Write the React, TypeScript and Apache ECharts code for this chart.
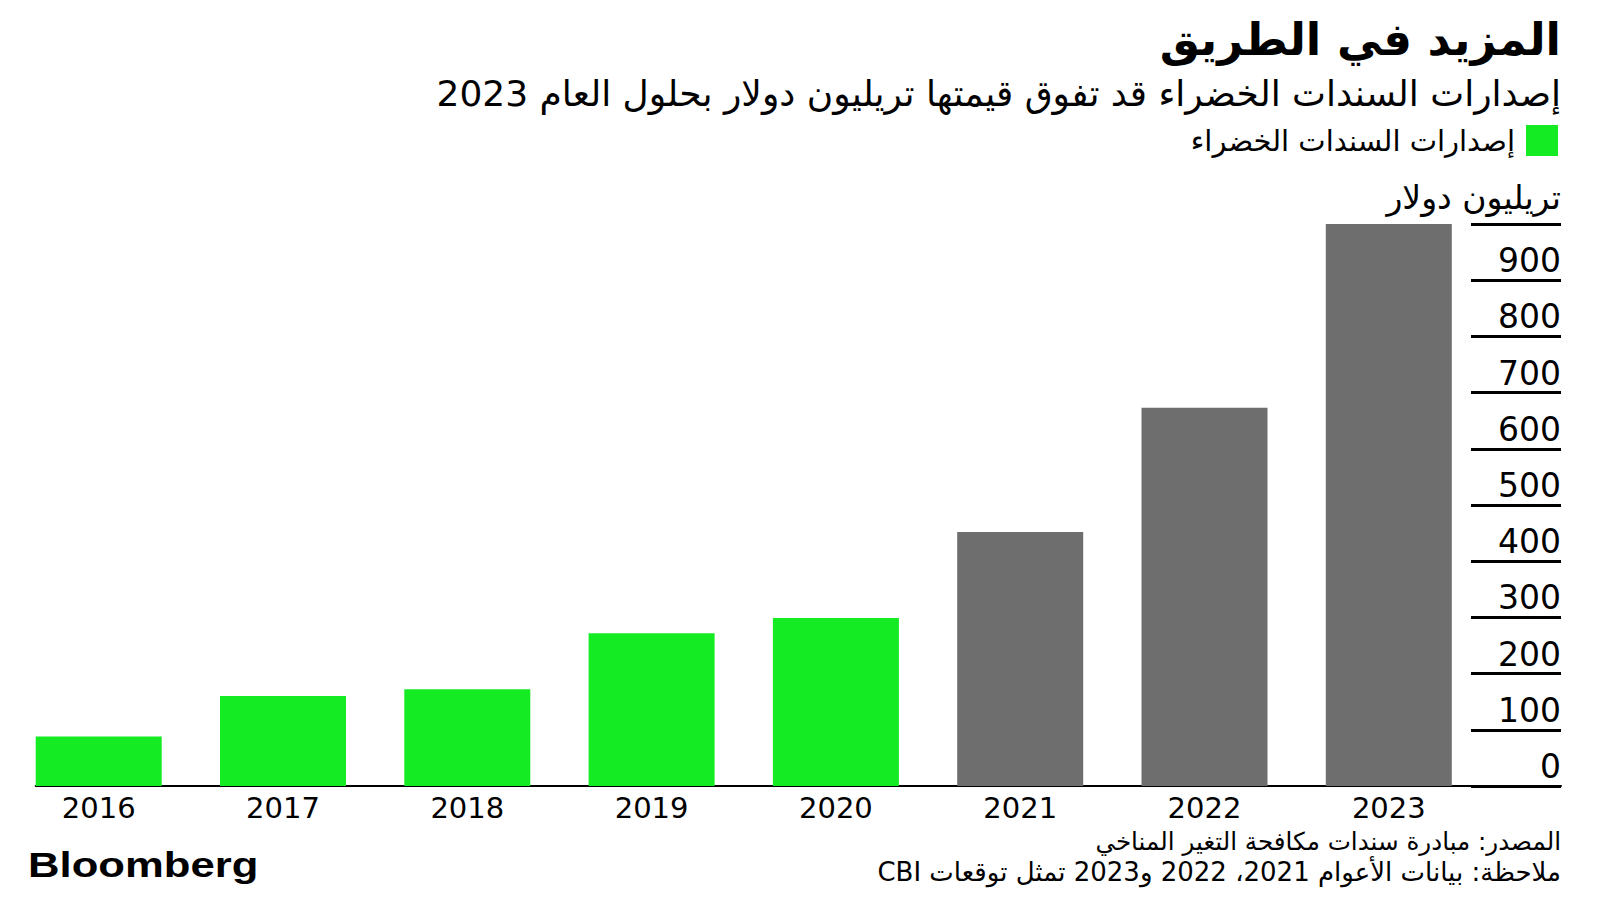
import React, { useEffect, useRef } from "react";
import * as echarts from "echarts";

const years = ["2016", "2017", "2018", "2019", "2020", "2021", "2022", "2023"];
const issuance = [88, 160, 172, 272, 299, 452, 673, 1000];
const forecastYears = ["2021", "2022", "2023"];
const yTicks = { min: 0, max: 1000, interval: 100 };

const titleText = "المزيد في الطريق";
const subtitleText = "إصدارات السندات الخضراء قد تفوق قيمتها تريليون دولار بحلول العام 2023";
const seriesName = "إصدارات السندات الخضراء";
const unitLabel = "تريليون دولار";
const sourceText = "المصدر: مبادرة سندات مكافحة التغير المناخي";
const noteText = "ملاحظة: بيانات الأعوام 2021، 2022 و2023 تمثل توقعات CBI";

const GREEN = "#14eb23";
const GRAY = "#6e6e6e";
const FONT = '"DejaVu Sans", sans-serif';
const rtl = (s: string) => "\u202B" + s + "\u202C";

export default function App() {
  const ref = useRef<HTMLDivElement>(null);
  useEffect(() => {
    if (!ref.current) return;
    const chart = echarts.init(ref.current, undefined, { renderer: "svg" });
    const option: any = {
      animation: false,
      backgroundColor: "#ffffff",
      textStyle: { fontFamily: FONT },
      legend: {
        data: [seriesName],
        right: 42,
        top: 125,
        padding: 0,
        align: "right",
        itemWidth: 32,
        itemHeight: 31,
        icon: "rect",
        textStyle: { fontSize: 29, color: "#000", fontFamily: FONT, padding: [0, 6, 0, 0] },
      },
      grid: [
        { left: 6.55, width: 1474.4, top: 224, bottom: 114 },
        { left: 35.7, right: 39, top: 224, bottom: 114 },
      ],
      xAxis: [
        {
          type: "category",
          gridIndex: 0,
          data: years,
          axisLine: { show: false },
          axisTick: { show: false },
          axisLabel: { fontSize: 29, color: "#000", fontFamily: FONT, margin: 7 },
        },
        {
          type: "value",
          gridIndex: 1,
          min: 0,
          max: 1,
          axisLine: { show: true, onZero: false, lineStyle: { color: "#000", width: 2 } },
          axisTick: { show: false },
          axisLabel: { show: false },
          splitLine: { show: false },
        },
      ],
      yAxis: [
        {
          type: "value",
          gridIndex: 0,
          min: yTicks.min,
          max: yTicks.max,
          interval: yTicks.interval,
          show: false,
        },
        {
          type: "value",
          gridIndex: 1,
          position: "right",
          min: yTicks.min,
          max: yTicks.max,
          interval: yTicks.interval,
          axisLine: { show: false, onZero: false },
          splitLine: { show: false },
          axisTick: { show: true, inside: true, length: 90, lineStyle: { color: "#000", width: 3 } },
          axisLabel: {
            inside: true,
            margin: 0,
            align: "right",
            verticalAlign: "bottom",
            lineHeight: 39,
            fontSize: 33,
            color: "#000",
            fontFamily: FONT,
            formatter: (v: number) => (v === yTicks.max ? "{u|" + unitLabel + "}" : String(v)),
            rich: {
              u: {
                fontSize: 33,
                lineHeight: 39,
                padding: [0, 0, 14, 0],
                color: "#000",
                fontFamily: FONT,
              },
            },
          },
        },
      ],
      series: [
        {
          name: seriesName,
          type: "bar",
          xAxisIndex: 0,
          yAxisIndex: 0,
          barWidth: 126,
          itemStyle: { color: GREEN },
          data: years.map((y, i) => ({
            value: issuance[i],
            itemStyle: { color: forecastYears.includes(y) ? GRAY : GREEN },
          })),
        },
      ],
      graphic: [
        {
          type: "text",
          x: 1561,
          y: 39,
          style: {
            text: rtl(titleText),
            fontSize: 45,
            fontWeight: "bold",
            fontFamily: FONT,
            fill: "#000",
            align: "right",
            verticalAlign: "middle",
          },
        },
        {
          type: "text",
          x: 1561,
          y: 93,
          style: {
            text: rtl(subtitleText),
            fontSize: 36,
            fontFamily: FONT,
            fill: "#000",
            align: "right",
            verticalAlign: "middle",
          },
        },
        {
          type: "text",
          x: 1561,
          y: 841,
          style: {
            text: rtl(sourceText),
            fontSize: 24.6,
            fontFamily: FONT,
            fill: "#000",
            align: "right",
            verticalAlign: "middle",
          },
        },
        {
          type: "text",
          x: 1561,
          y: 872,
          style: {
            text: rtl(noteText),
            fontSize: 26,
            fontFamily: FONT,
            fill: "#000",
            align: "right",
            verticalAlign: "middle",
          },
        },
        {
          type: "text",
          x: 28,
          y: 865,
          scaleX: 1.247,
          style: {
            text: "Bloomberg",
            fontSize: 35,
            fontWeight: "bold",
            fontFamily: '"Liberation Sans", Arial, sans-serif',
            fill: "#000",
            align: "left",
            verticalAlign: "middle",
          },
        },
      ],
    };
    chart.setOption(option);
    return () => chart.dispose();
  }, []);
  return (
    <div
      ref={ref}
      style={{ position: "absolute", left: 0, top: 0, width: 1600, height: 900 }}
    />
  );
}
